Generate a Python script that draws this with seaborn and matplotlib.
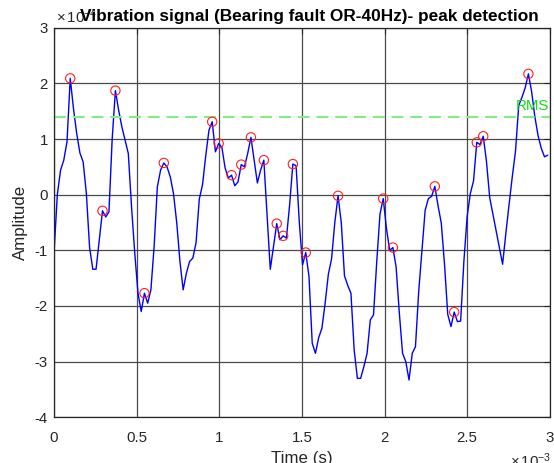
import numpy as np
import pandas as pd
import matplotlib
matplotlib.use("Agg")
import matplotlib.pyplot as plt
import seaborn as sns
from matplotlib.ticker import FuncFormatter, FixedLocator

# ---------------- data ----------------
fs_hz = 51200                      # sampling rate of the signal
# amplitude samples, in units of 1e-4
amplitude_e4 = [
    -1.02, 0.00, 0.44, 0.62, 0.95, 2.09, 1.55, 1.10, 0.75, 0.59,
    0.02, -0.95, -1.34, -1.34, -0.81, -0.29, -0.40, -0.31, 1.00, 1.87,
    1.52, 1.22, 0.98, 0.74, -0.22, -1.05, -1.77, -2.10, -1.77, -1.95,
    -1.71, -0.93, 0.14, 0.44, 0.57, 0.50, 0.32, 0.02, -0.50, -1.20,
    -1.71, -1.41, -1.20, -1.14, -0.86, -0.08, 0.18, 0.70, 1.16, 1.31,
    0.77, 0.92, 0.85, 0.48, 0.30, 0.35, 0.16, 0.23, 0.54, 0.50,
    0.74, 1.03, 0.62, 0.21, 0.44, 0.62, -0.35, -1.34, -0.93, -0.52,
    -0.81, -0.74, -0.78, -0.18, 0.55, 0.52, -0.50, -1.26, -1.04, -1.47,
    -2.67, -2.85, -2.57, -2.40, -1.95, -1.43, -1.15, -0.50, -0.02, -0.50,
    -1.46, -1.63, -1.77, -2.79, -3.30, -3.30, -3.09, -2.85, -2.25, -2.16,
    -1.20, -0.35, -0.07, -0.60, -1.00, -0.95, -1.30, -2.13, -2.85, -3.00,
    -3.33, -2.85, -2.73, -1.74, -1.00, -0.28, -0.07, -0.03, 0.15, -0.20,
    -0.51, -1.25, -2.15, -2.37, -2.11, -2.28, -2.27, -1.20, -0.40, 0.02,
    0.25, 0.94, 0.90, 1.05, 0.60, -0.05, -0.35, -0.65, -0.95, -1.25,
    -0.70, -0.18, 0.32, 0.78, 1.60, 1.75, 1.92, 2.17, 1.85, 1.40,
    1.06, 0.83, 0.68, 0.71,
]
rms_e4 = 1.40                      # RMS level (1e-4)
x_ticks_ms = [0, 0.5, 1, 1.5, 2, 2.5, 3]
y_ticks_e4 = [-4, -3, -2, -1, 0, 1, 2, 3]
title_text = "Vibration signal (Bearing fault OR-40Hz)- peak detection"

# ---------------- derived tables ----------------
amp = np.array(amplitude_e4)
time_ms = np.arange(len(amp)) / fs_hz * 1e3
df = pd.DataFrame({"t": time_ms, "a": amp})
is_peak = np.zeros(len(amp), dtype=bool)
is_peak[1:-1] = (amp[1:-1] > amp[:-2]) & (amp[1:-1] > amp[2:])
peaks = df[is_peak]

# ---------------- style ----------------
sns.set_style("white")
plt.rcParams["font.family"] = ["Liberation Sans", "DejaVu Sans"]
plt.rcParams["mathtext.fontset"] = "custom"
plt.rcParams["mathtext.rm"] = "Liberation Sans"
plt.rcParams["mathtext.it"] = "Liberation Sans:italic"
plt.rcParams["mathtext.bf"] = "Liberation Sans:bold"

W, H = 554, 463
fig = plt.figure(figsize=(W / 100, H / 100), dpi=100)
ax_l, ax_r, ax_t, ax_b = 54.1, 549.7, 27.7, 417.3
ax = fig.add_axes([ax_l / W, 1 - ax_b / H, (ax_r - ax_l) / W, (ax_b - ax_t) / H])

ax.set_axisbelow(True)
ax.grid(True, color="#4a4a4a", linewidth=0.9)

sns.lineplot(data=df, x="t", y="a", ax=ax, color="#0000ff", linewidth=1.0,
             estimator=None, sort=False, zorder=2)
sns.scatterplot(data=peaks, x="t", y="a", ax=ax, marker="o", s=45,
                facecolors="none", edgecolor="#ff2020", linewidth=0.8, zorder=3)
ax.axhline(rms_e4, color="#80ee80", linewidth=1.5, linestyle=(0, (5.7, 3.3)), zorder=2)
ax.text(2.995, rms_e4 + 0.06, "RMS", color="#10e010", fontsize=10.8,
        ha="right", va="bottom")

ax.set_xlim(0, 3)
ax.set_ylim(-4, 3)
ax.xaxis.set_major_locator(FixedLocator(x_ticks_ms))
ax.yaxis.set_major_locator(FixedLocator(y_ticks_e4))
fmt = FuncFormatter(lambda v, p: f"{v:g}")
ax.xaxis.set_major_formatter(fmt)
ax.yaxis.set_major_formatter(fmt)

ax.tick_params(direction="in", length=4, width=0.8, top=True, right=True,
               labelsize=10.8, labelcolor="#262626", color="#262626")
ax.tick_params(axis="x", pad=10)
ax.tick_params(axis="y", pad=4.5)
for s in ax.spines.values():
    s.set_visible(True)
    s.set_color("#262626")
    s.set_linewidth(0.9)

ax.set_xlabel("Time (s)", fontsize=12.2, color="#262626")
ax.set_ylabel("Amplitude", fontsize=12.2, color="#262626")
ax.xaxis.set_label_coords(0.5, -0.0865)
ax.yaxis.set_label_coords(-0.053, 0.5)

ax.text(0.004, 1.004, r"$\times\,10^{-4}$", transform=ax.transAxes,
        ha="left", va="bottom", fontsize=10.8, color="#262626")
ax.text(1.003, -0.088, r"$\times\,10^{-3}$", transform=ax.transAxes,
        ha="right", va="top", fontsize=10.8, color="#262626")

ax.set_title(title_text, fontsize=12.4, fontweight="bold", pad=5, color="black")
ax.title.set_x(0.516)

fig.savefig("out.png", dpi=100)
